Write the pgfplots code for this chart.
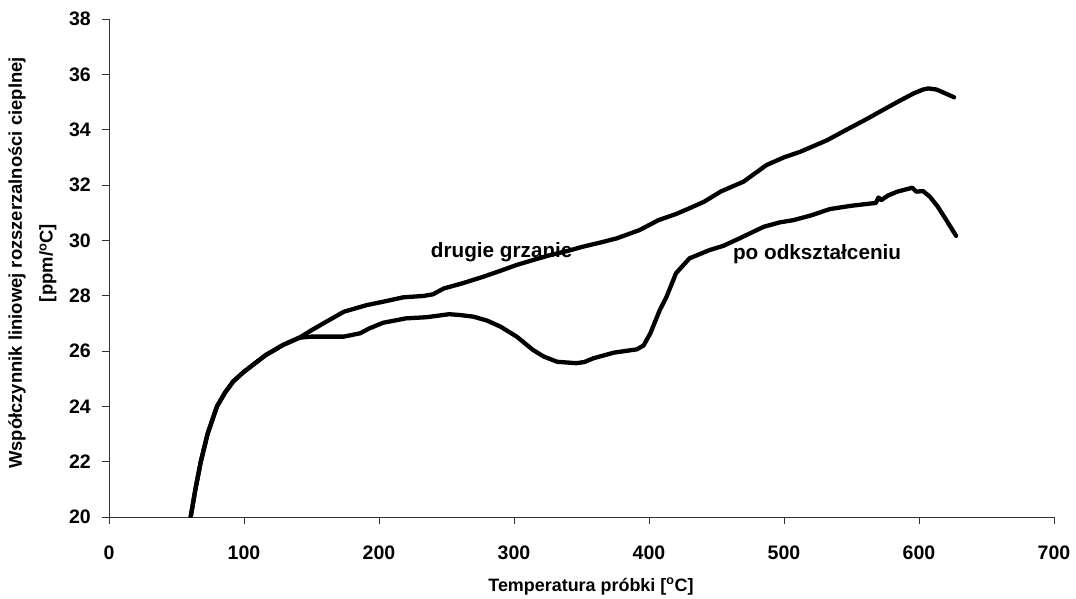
\documentclass[border=0pt]{standalone}
\usepackage{fontspec}
\setmainfont{Liberation Sans}
\usepackage{pgfplots}
\pgfplotsset{compat=1.18}
\begin{document}
\begin{tikzpicture}
\useasboundingbox (-109bp,-82bp) rectangle (967bp,517bp);
\begin{axis}[
  scale only axis,
  width=945bp, height=498bp,
  xmin=0, xmax=700, ymin=20, ymax=38,
  xtick={0,100,...,700}, ytick={20,22,...,38},
  axis x line*=bottom, axis y line*=left,
  axis line style={-, draw=black!80, line width=0.9bp},
  tick style={draw=black!80, line width=0.9bp},
  tick align=outside,
  major tick length=7bp,
  /pgf/number format/assume math mode=true,
  ticklabel style={font=\bfseries\fontsize{19.6}{23}\selectfont, inner sep=0pt},
  xticklabel style={anchor=base, yshift=-35.7bp},
  yticklabel style={anchor=east, xshift=-11bp},
  xlabel={Temperatura próbki [\textsuperscript{o}C]},
  xlabel style={at={(axis description cs:0.51,0)}, anchor=base, yshift=-74bp, inner sep=0pt, font=\bfseries\fontsize{18}{22}\selectfont},
  ylabel={Współczynnik liniowej rozszerzalności cieplnej\\{}{[ppm/\textsuperscript{o}C]}},
  ylabel style={at={(axis description cs:-0.081,0.51)}, anchor=center, inner sep=0pt, align=center, font=\bfseries\fontsize{18.5}{31}\selectfont},
  clip=true,
]
\addplot[black, line width=4.3bp, line cap=round, line join=round] coordinates {
(60.5,20) (64,21) (68,22) (73,23) (80,24) (86,24.5) (92,24.9) (100,25.25) (108,25.55) (116,25.85) (129,26.22) (141,26.48)
(150,26.75) (161,27.06) (174,27.42) (191,27.66) (203,27.78) (218,27.94) (233,27.99) (240,28.05)
(248,28.26) (262,28.45) (277,28.68) (290,28.9) (302,29.11) (315,29.3) (327,29.47) (340,29.62)
(351,29.77) (364,29.92) (376,30.07) (393,30.37) (407,30.73) (420,30.95) (430,31.16) (441,31.4)
(453,31.76) (470,32.12) (487,32.72) (500,33.0) (512,33.2) (532,33.62) (546,33.99) (560,34.35)
(571,34.65) (584,35.0) (596,35.31) (603,35.45) (607,35.49) (613,35.45) (620,35.3) (626,35.17)
};
\addplot[black, line width=4.3bp, line cap=round, line join=round] coordinates {
(60.5,20) (64,21) (68,22) (73,23) (80,24) (86,24.5) (92,24.9) (100,25.25) (108,25.55) (116,25.85) (129,26.22) (141,26.48)
(150,26.52) (160,26.52) (174,26.52) (186,26.64) (193,26.82) (203,27.02) (220,27.18) (235,27.22)
(252,27.33) (260,27.3) (270,27.24) (280,27.1) (290,26.88) (302,26.52) (314,26.04) (322,25.8)
(332,25.61) (346,25.56) (352,25.6) (359,25.74) (374,25.94) (391,26.06) (396,26.2) (401,26.64)
(408,27.48) (413,27.96) (420,28.81) (430,29.35) (445,29.65) (455,29.8) (467,30.07) (485,30.49)
(497,30.65) (507,30.73) (520,30.9) (534,31.13) (550,31.25) (564,31.33) (568,31.35) (570,31.55)
(572,31.45) (577,31.62) (584,31.76) (595,31.9) (598,31.76) (603,31.78) (608,31.58) (614,31.21)
(620,30.75) (627.5,30.16)
};
\node[font=\bfseries\fontsize{20.8}{24}\selectfont, inner sep=0pt, anchor=center] at (axis cs:290.9,29.58) {drugie grzanie};
\node[font=\bfseries\fontsize{20.8}{24}\selectfont, inner sep=0pt, anchor=center] at (axis cs:524.5,29.5) {po odkształceniu};
\end{axis}
\end{tikzpicture}
\end{document}
